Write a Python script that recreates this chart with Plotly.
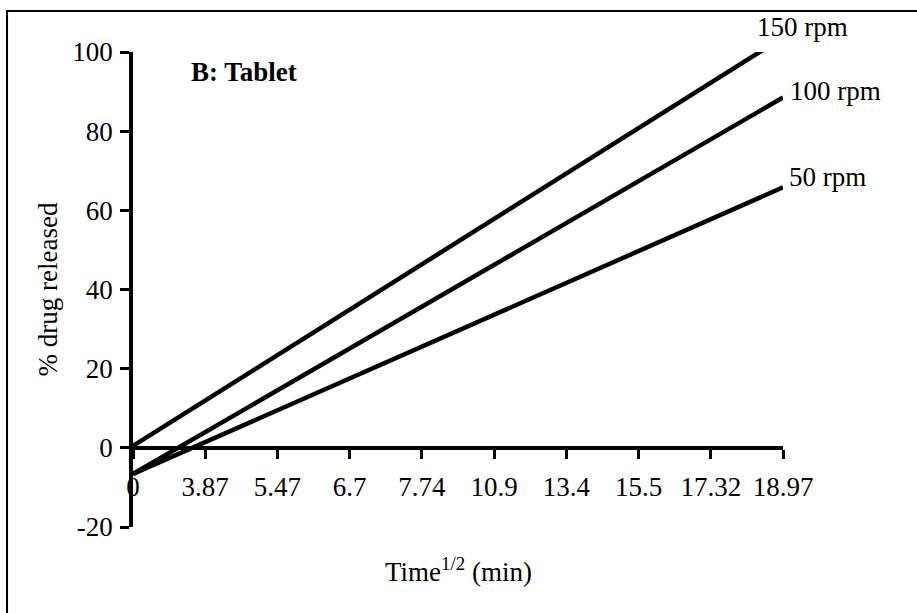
import plotly.graph_objects as go

# ---- data ----
x_labels = ["0", "3.87", "5.47", "6.7", "7.74", "10.9", "13.4", "15.5", "17.32", "18.97"]
x_index = list(range(len(x_labels)))
line_x = [0, 9]                    # first and last category index
rpm150 = [0.5, 103.7]
rpm100 = [-6.6, 88.5]
rpm50 = [-6.6, 65.8]
series = [("150 rpm", rpm150), ("100 rpm", rpm100), ("50 rpm", rpm50)]
y_ticks = [-20, 0, 20, 40, 60, 80, 100]
y_ticktext = ["-20", "0", "20", "40", "60", "80", "100"]

FONT = "Liberation Serif, Times New Roman, serif"
FS = 27

fig = go.Figure()
for name, ys in series:
    fig.add_trace(go.Scatter(x=line_x, y=ys, mode="lines", name=name,
                             line=dict(color="black", width=4.5),
                             showlegend=False, hoverinfo="skip"))

# end labels (paper coordinates, placed beside the line ends)
label_pos = {"150 rpm": (0.957, 1.053), "100 rpm": (1.008, 0.918), "50 rpm": (1.006, 0.737)}
for name, _ in series:
    lx, ly = label_pos[name]
    fig.add_annotation(x=lx, y=ly, xref="paper", yref="paper", text=name, showarrow=False,
                       xanchor="left", yanchor="middle",
                       font=dict(family=FONT, size=FS, color="black"))

fig.add_annotation(x=0.77, y=94.9, xref="x", yref="y", text="<b>B: Tablet</b>",
                   showarrow=False, xanchor="left", yanchor="middle",
                   font=dict(family=FONT, size=FS, color="black"))

# axis titles
fig.add_annotation(x=0.5, y=-0.09, xref="paper", yref="paper",
                   text="Time<sup>1/2</sup> (min)", showarrow=False,
                   xanchor="center", yanchor="middle",
                   font=dict(family=FONT, size=FS, color="black"))
fig.add_annotation(x=-0.1323, y=0.5, xref="paper", yref="paper",
                   text="% drug released", showarrow=False, textangle=-90,
                   xanchor="center", yanchor="middle",
                   font=dict(family=FONT, size=FS, color="black"))

# outer frame
fig.add_shape(type="rect", xref="paper", yref="paper",
              x0=-0.1938, x1=1.3, y0=-0.3, y1=1.0863,
              line=dict(color="black", width=2), fillcolor="rgba(0,0,0,0)", layer="below")

fig.update_layout(
    width=917, height=613,
    margin=dict(l=133, r=134, t=52, b=86, pad=0),
    paper_bgcolor="white", plot_bgcolor="white",
    font=dict(family=FONT, size=FS, color="black"),
    xaxis=dict(range=[0, 9], tickvals=x_index, ticktext=x_labels,
               showgrid=False, zeroline=False, showline=True,
               linecolor="black", linewidth=3.5,
               ticks="outside", ticklen=9, tickwidth=3, tickcolor="black",
               ticklabelstandoff=5,
               anchor="free", position=20 / 120,
               tickfont=dict(family=FONT, size=FS, color="black")),
    yaxis=dict(range=[-20, 100], tickvals=y_ticks, ticktext=y_ticktext,
               showgrid=False, zeroline=False, showline=True,
               linecolor="black", linewidth=3.5,
               ticks="outside", ticklen=9, tickwidth=3, tickcolor="black",
               ticklabelstandoff=2,
               tickfont=dict(family=FONT, size=FS, color="black")),
)

fig.write_html("out.html")
